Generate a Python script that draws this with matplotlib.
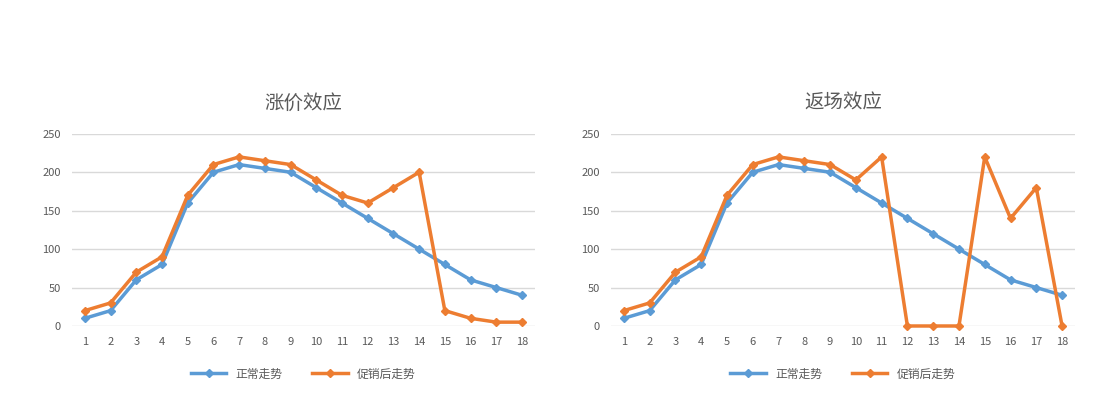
import matplotlib
matplotlib.use("Agg")
import matplotlib.pyplot as plt
import numpy as np

plt.rcParams["font.family"] = ["Noto Sans CJK SC", "DejaVu Sans"]

BLUE = "#5B9BD5"; ORANGE = "#ED7D31"; TXT = "#595959"; GRID = "#D9D9D9"

days = list(range(1, 19))
normal = [10, 20, 60, 80, 160, 200, 210, 205, 200, 180, 160, 140, 120, 100, 80, 60, 50, 40]
rise_after = [20, 30, 70, 90, 170, 210, 220, 215, 210, 190, 170, 160, 180, 200, 20, 10, 5, 5]
return_after = [20, 30, 70, 90, 170, 210, 220, 215, 210, 190, 220, 0, 0, 0, 220, 140, 180, 0]
titles = ["涨价效应", "返场效应"]
labels = ["正常走势", "促销后走势"]

fig = plt.figure(figsize=(11.18, 4.08), dpi=100)
boxes = [[0.0644, 0.201, 0.414, 0.471], [0.5465, 0.201, 0.415, 0.471]]

for box, title, promo in zip(boxes, titles, [rise_after, return_after]):
    ax = fig.add_axes(box)
    x = np.arange(len(days))
    ax.plot(x, normal, color=BLUE, lw=2.5, marker="D", ms=4, label=labels[0], clip_on=False)
    ax.plot(x, promo, color=ORANGE, lw=2.5, marker="D", ms=4, label=labels[1], clip_on=False)
    ax.set_xlim(-0.5, len(days) - 0.5)
    ax.set_ylim(0, 250)
    ax.set_yticks(range(0, 251, 50))
    ax.set_xticks(x)
    ax.set_xticklabels([str(d) for d in days])
    ax.tick_params(colors=TXT, labelsize=8, length=0, pad=8)
    ax.grid(axis="y", color=GRID, lw=1)
    ax.set_axisbelow(True)
    for s in ax.spines.values():
        s.set_visible(False)
    cx = box[0] + box[2] / 2
    fig.text(cx, 0.748, title, ha="center", va="center", fontsize=14, color=TXT)
    ax.legend(loc="upper center", bbox_to_anchor=(0.5, -0.16), ncol=2, frameon=False,
              fontsize=8.5, labelcolor=TXT, handlelength=3, columnspacing=2.5)

fig.savefig("out.png", dpi=100, facecolor="white")
